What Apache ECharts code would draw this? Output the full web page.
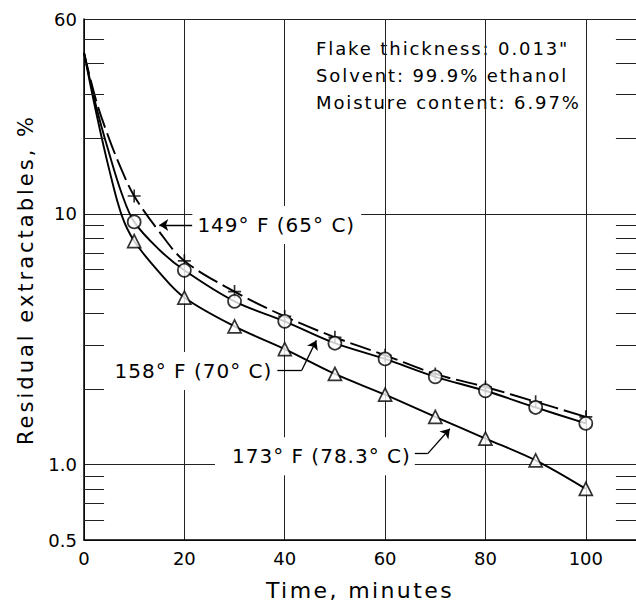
<!DOCTYPE html>
<html>
<head>
<meta charset="utf-8">
<title>Residual extractables vs time</title>
<script src="https://cdn.jsdelivr.net/npm/echarts@6/dist/echarts.min.js"></script>
<style>
  html, body { margin: 0; padding: 0; background: #fff; }
  #echart { width: 636px; height: 606px; }
</style>
</head>
<body>
<div id="echart"></div>
<script>
// measured points, time in minutes
var timeMin = [10, 20, 30, 40, 50, 60, 70, 80, 90, 100];
var res149 = [11.8, 6.5, 4.9, 3.9, 3.22, 2.73, 2.30, 2.04, 1.78, 1.55];
var res158 = [9.3, 5.96, 4.48, 3.73, 3.05, 2.64, 2.24, 1.97, 1.69, 1.46];
var res173 = [7.8, 4.64, 3.56, 2.89, 2.30, 1.90, 1.55, 1.27, 1.04, 0.80];

// drawn curves: extra spots read off the plot where there are no points
var curveTime = [0, 2.5, 5, 7.5, 10, 15, 20, 30, 40, 50, 60, 70, 80, 90, 100];
var curve149 = [44, 28, 20, 15, 11.8, 8.5, 6.5, 4.9, 3.9, 3.22, 2.73, 2.30, 2.04, 1.78, 1.55];
var curve158 = [44, 26.5, 17.5, 12.1, 9.3, 7.2, 5.96, 4.48, 3.73, 3.05, 2.64, 2.24, 1.97, 1.69, 1.46];
var curve173 = [44, 25, 15.1, 9.9, 7.8, 5.85, 4.64, 3.56, 2.89, 2.30, 1.90, 1.55, 1.27, 1.04, 0.80];

var xTicks = [0, 20, 40, 60, 80, 100];
var yLabels = [0.5, 1, 10, 60];
var minorTicks = [0.6, 0.7, 0.8, 0.9, 2, 3, 4, 5, 6, 7, 8, 9, 20, 30, 40, 50];

var noteNames = ['149° F (65° C)', '158° F (70° C)', '173° F (78.3° C)'];
var conditions = ['Flake thickness: 0.013"', 'Solvent: 99.9% ethanol', 'Moisture content: 6.97%'];

var FONT = 'DejaVu Sans';

function pairs(xs, ys) {
    var out = [];
    for (var i = 0; i < xs.length; i++) {
        out.push([xs[i], ys[i]]);
    }
    return out;
}

// minor ticks on both sides of the frame
var tickLines = [];
for (var i = 0; i < minorTicks.length; i++) {
    tickLines.push([{coord: [0, minorTicks[i]]}, {coord: [4, minorTicks[i]]}]);
    tickLines.push([{coord: [106, minorTicks[i]]}, {coord: [110, minorTicks[i]]}]);
}

var plusPath = 'path://M-1,-0.13H1V0.13H-1Z M-0.13,-1H0.13V1H-0.13Z';

var dom = document.getElementById('echart');
var myChart = echarts.init(dom, null, {renderer: 'svg'});

// the lettering on the original is spaced out
var spacing = {'Time, minutes': 2.4, 'Residual extractables, %': 3};
spacing[conditions[0]] = 1.9;
spacing[conditions[1]] = 1.9;
spacing[conditions[2]] = 1.9;
spacing[noteNames[0]] = 1;
spacing[noteNames[1]] = 1;
spacing[noteNames[2]] = 1;
function spaceLetters() {
    var texts = dom.querySelectorAll('text');
    for (var i = 0; i < texts.length; i++) {
        var s = spacing[texts[i].textContent];
        if (s) texts[i].style.letterSpacing = s + 'px';
    }
}
myChart.on('finished', spaceLetters);

var condText = [];
for (var i = 0; i < conditions.length; i++) {
    condText.push({
        type: 'text', left: 316, top: 39 + i * 27,
        style: {text: conditions[i], fill: '#000', font: '18px "DejaVu Sans"'}
    });
}

var noteLabel = {
    show: true, position: 'right', distance: 0, formatter: '{b}',
    color: '#000', fontFamily: FONT, fontSize: 20, backgroundColor: '#fff'
};

option = {
    animation: false,
    backgroundColor: '#fff',
    grid: {left: 84, top: 19, width: 556, height: 524},
    xAxis: {
        type: 'value', min: 0, max: 110, interval: 20,
        name: 'Time, minutes', nameLocation: 'middle', nameGap: 39,
        nameTextStyle: {color: '#000', fontFamily: FONT, fontSize: 22},
        axisLine: {lineStyle: {color: '#000', width: 1.5}},
        axisTick: {show: false},
        axisLabel: {
            color: '#000', fontFamily: FONT, fontSize: 18, margin: 9,
            showMaxLabel: false,
            formatter: function (v) { return xTicks.indexOf(v) >= 0 ? String(v) : ''; }
        },
        splitLine: {show: true, lineStyle: {color: '#222', width: 1}}
    },
    yAxis: {
        type: 'log', logBase: 10, min: 0.5, max: 60,
        name: 'Residual extractables, %', nameLocation: 'middle', nameGap: 48,
        nameTextStyle: {color: '#000', fontFamily: FONT, fontSize: 21},
        axisLine: {show: true, lineStyle: {color: '#000', width: 1.5}},
        axisTick: {show: false},
        axisLabel: {
            color: '#000', fontFamily: FONT, fontSize: 18, margin: 7,
            showMinLabel: true, showMaxLabel: true,
            formatter: function (v) {
                for (var i = 0; i < yLabels.length; i++) {
                    if (Math.abs(v - yLabels[i]) < 1e-6) return yLabels[i] === 1 ? '1.0' : String(yLabels[i]);
                }
                return '';
            }
        },
        splitLine: {show: true, lineStyle: {color: '#222', width: 1}}
    },
    graphic: condText,
    series: [
        {
            name: '149', type: 'line', smooth: 0.35, symbol: 'none', z: 2,
            lineStyle: {color: '#000', width: 1.9, type: [22, 6]},
            data: pairs(curveTime, curve149)
        },
        {
            name: '158', type: 'line', smooth: 0.35, symbol: 'none', z: 2,
            lineStyle: {color: '#000', width: 1.9},
            data: pairs(curveTime, curve158)
        },
        {
            name: '173', type: 'line', smooth: 0.35, symbol: 'none', z: 2,
            lineStyle: {color: '#000', width: 1.9},
            data: pairs(curveTime, curve173)
        },
        {
            type: 'scatter', symbol: plusPath, symbolSize: 13, z: 3,
            itemStyle: {color: '#000'},
            data: pairs(timeMin, res149)
        },
        {
            type: 'scatter', symbol: 'circle', symbolSize: 13, z: 3,
            itemStyle: {color: '#fff', borderColor: '#000', borderWidth: 1.7},
            data: pairs(timeMin, res158)
        },
        {
            type: 'scatter', symbol: 'triangle', symbolSize: 13, z: 3,
            itemStyle: {color: '#fff', borderColor: '#000', borderWidth: 1.7},
            data: pairs(timeMin, res173)
        },
        {
            // curve labels, white boxes hide the grid behind them
            type: 'line', data: [], z: 4, silent: true,
            markPoint: {
                symbol: 'circle', symbolSize: 0, silent: true,
                label: noteLabel,
                data: [
                    {name: noteNames[0], coord: [21.6, 9.04], label: {padding: [9, 20, 9, 5]}},
                    {name: noteNames[1], coord: [4.9, 2.36], label: {padding: [9, 19, 9, 6]}},
                    {name: noteNames[2], coord: [26.1, 1.08], label: {padding: [9, 20, 9, 17]}}
                ]
            }
        },
        {
            // leader lines
            type: 'line', data: [], z: 5, silent: true,
            markLine: {
                silent: true, symbol: ['none', 'arrow'], symbolSize: 9,
                label: {show: false},
                lineStyle: {color: '#000', width: 1.3, type: 'solid'},
                data: [
                    [{coord: [21.6, 9.04]}, {coord: [15.0, 9.04]}],
                    [{coord: [38.4, 2.38]}, {coord: [43.4, 2.38], symbol: 'none'}],
                    [{coord: [43.4, 2.38]}, {coord: [46.3, 3.13]}],
                    [{coord: [65.1, 1.106]}, {coord: [68.5, 1.106], symbol: 'none'}],
                    [{coord: [68.5, 1.106]}, {coord: [72.9, 1.39]}]
                ]
            }
        },
        {
            // minor log ticks
            type: 'line', data: [], z: 1, silent: true,
            markLine: {
                silent: true, symbol: ['none', 'none'],
                label: {show: false},
                lineStyle: {color: '#222', width: 1, type: 'solid'},
                data: tickLines
            }
        }
    ]
};

myChart.setOption(option);
setTimeout(spaceLetters, 50);
</script>
</body>
</html>
